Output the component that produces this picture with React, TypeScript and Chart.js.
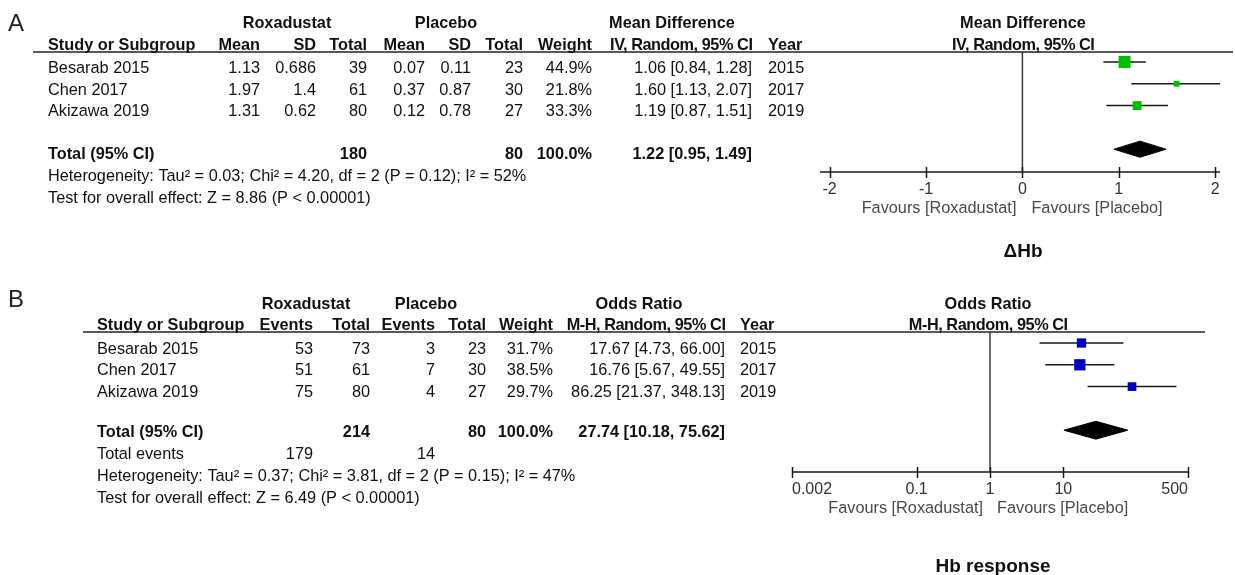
import React, { useEffect, useRef } from "react";
import { Chart, registerables } from "chart.js";

Chart.register(...registerables);

// ---------- shared ----------
const studies = ["Besarab 2015", "Chen 2017", "Akizawa 2019"];
const years = [2015, 2017, 2019];

// ---------- Panel A : ΔHb (Mean Difference) ----------
const roxMeanA = [1.13, 1.97, 1.31];
const roxSdA = [0.686, 1.4, 0.62];
const roxTotalA = [39, 61, 80];
const plcMeanA = [0.07, 0.37, 0.12];
const plcSdA = [0.11, 0.87, 0.78];
const plcTotalA = [23, 30, 27];
const weightA = [44.9, 21.8, 33.3];
const mdEst = [1.06, 1.6, 1.19];
const mdLow = [0.84, 1.13, 0.87];
const mdHigh = [1.28, 2.07, 1.51];
const mdTotal = [1.22, 0.95, 1.49]; // estimate, low, high
const sumTotalsA = [180, 80];
const hetA = "Heterogeneity: Tau² = 0.03; Chi² = 4.20, df = 2 (P = 0.12); I² = 52%";
const testA = "Test for overall effect: Z = 8.86 (P < 0.00001)";
const ticksA = [-2, -1, 0, 1, 2];
const tickLabelsA = ["-2", "-1", "0", "1", "2"];

// ---------- Panel B : Hb response (Odds Ratio) ----------
const roxEventsB = [53, 51, 75];
const roxTotalB = [73, 61, 80];
const plcEventsB = [3, 7, 4];
const plcTotalB = [23, 30, 27];
const weightB = [31.7, 38.5, 29.7];
const orEst = [17.67, 16.76, 86.25];
const orLow = [4.73, 5.67, 21.37];
const orHigh = [66.0, 49.55, 348.13];
const orTotal = [27.74, 10.18, 75.62]; // estimate, low, high
const sumTotalsB = [214, 80];
const totalEventsB = [179, 14];
const hetB = "Heterogeneity: Tau² = 0.37; Chi² = 3.81, df = 2 (P = 0.15); I² = 47%";
const testB = "Test for overall effect: Z = 6.49 (P < 0.00001)";
const ticksB = [0.002, 0.1, 1, 10, 500];
const tickLabelsB = ["0.002", "0.1", "1", "10", "500"];

// ---------- drawing helpers ----------
const FONT = "'Liberation Sans', Arial, Helvetica, sans-serif";
const FS = 16.3;
const TIGHT = -0.45;
const INK = "#111";
const AXIS_BOX = 40;

type Cell = {
  t: string;
  x: number;
  y: number;
  a?: CanvasTextAlign;
  b?: boolean;
  size?: number;
  color?: string;
  ls?: number;
};

function drawCells(ctx: CanvasRenderingContext2D, cells: Cell[]) {
  for (const c of cells) {
    ctx.font = `${c.b ? "bold " : ""}${c.size ?? FS}px ${FONT}`;
    ctx.fillStyle = c.color ?? INK;
    ctx.textAlign = c.a ?? "left";
    ctx.textBaseline = "alphabetic";
    (ctx as any).letterSpacing = `${c.ls ?? 0}px`;
    let x = c.x;
    // letterSpacing adds trailing space; compensate so right/center anchors stay put
    if (c.ls) {
      if (c.a === "right") x -= c.ls;
      else if (c.a === "center") x -= c.ls / 2;
    }
    ctx.fillText(c.t, x, c.y);
  }
  (ctx as any).letterSpacing = "0px";
}

const ci = (e: number, l: number, h: number) =>
  `${e.toFixed(2)} [${l.toFixed(2)}, ${h.toFixed(2)}]`;

function cellsA(nullPx: number): Cell[] {
  const c: Cell[] = [];
  c.push({ t: "A", x: 8, y: 31, size: 24, color: "#222" });
  const h1 = 28;
  const h2 = 49.5;
  c.push(
    { t: "Roxadustat", x: 287, y: h1, a: "center", b: true },
    { t: "Placebo", x: 446, y: h1, a: "center", b: true },
    { t: "Mean Difference", x: 672, y: h1, a: "center", b: true },
    { t: "Mean Difference", x: 1023, y: h1, a: "center", b: true },
    { t: "Study or Subgroup", x: 48, y: h2, b: true },
    { t: "Mean", x: 260, y: h2, a: "right", b: true },
    { t: "SD", x: 316, y: h2, a: "right", b: true },
    { t: "Total", x: 367, y: h2, a: "right", b: true },
    { t: "Mean", x: 425, y: h2, a: "right", b: true },
    { t: "SD", x: 471, y: h2, a: "right", b: true },
    { t: "Total", x: 523, y: h2, a: "right", b: true },
    { t: "Weight", x: 592, y: h2, a: "right", b: true },
    { t: "IV, Random, 95% CI", x: 752, y: h2, a: "right", b: true, ls: TIGHT },
    { t: "Year", x: 768, y: h2, b: true },
    { t: "IV, Random, 95% CI", x: 1023, y: h2, a: "center", b: true, ls: TIGHT }
  );
  const rowY = [73, 94.5, 116];
  studies.forEach((s, i) => {
    const y = rowY[i];
    c.push(
      { t: s, x: 48, y },
      { t: String(roxMeanA[i]), x: 260, y, a: "right" },
      { t: String(roxSdA[i]), x: 316, y, a: "right" },
      { t: String(roxTotalA[i]), x: 367, y, a: "right" },
      { t: plcMeanA[i].toFixed(2), x: 425, y, a: "right" },
      { t: String(plcSdA[i]), x: 471, y, a: "right" },
      { t: String(plcTotalA[i]), x: 523, y, a: "right" },
      { t: weightA[i].toFixed(1) + "%", x: 592, y, a: "right" },
      { t: ci(mdEst[i], mdLow[i], mdHigh[i]), x: 752, y, a: "right" },
      { t: String(years[i]), x: 768, y }
    );
  });
  const ty = 158.5;
  c.push(
    { t: "Total (95% CI)", x: 48, y: ty, b: true },
    { t: String(sumTotalsA[0]), x: 367, y: ty, a: "right", b: true },
    { t: String(sumTotalsA[1]), x: 523, y: ty, a: "right", b: true },
    { t: "100.0%", x: 592, y: ty, a: "right", b: true },
    { t: ci(mdTotal[0], mdTotal[1], mdTotal[2]), x: 752, y: ty, a: "right", b: true },
    { t: hetA, x: 48, y: 181 },
    { t: testA, x: 48, y: 203 },
    { t: "Favours [Roxadustat]", x: nullPx - 6, y: 213, a: "right", color: "#4a4a4a" },
    { t: "Favours [Placebo]", x: nullPx + 9, y: 213, a: "left", color: "#4a4a4a" },
    { t: "ΔHb", x: 1023, y: 256.5, a: "center", b: true, size: 19 }
  );
  return c;
}

function cellsB(nullPx: number): Cell[] {
  const c: Cell[] = [];
  c.push({ t: "B", x: 8, y: 307, size: 24, color: "#222" });
  const h1 = 309;
  const h2 = 330;
  c.push(
    { t: "Roxadustat", x: 306, y: h1, a: "center", b: true },
    { t: "Placebo", x: 426, y: h1, a: "center", b: true },
    { t: "Odds Ratio", x: 639, y: h1, a: "center", b: true },
    { t: "Odds Ratio", x: 988, y: h1, a: "center", b: true },
    { t: "Study or Subgroup", x: 97, y: h2, b: true },
    { t: "Events", x: 313, y: h2, a: "right", b: true },
    { t: "Total", x: 370, y: h2, a: "right", b: true },
    { t: "Events", x: 435, y: h2, a: "right", b: true },
    { t: "Total", x: 486, y: h2, a: "right", b: true },
    { t: "Weight", x: 553, y: h2, a: "right", b: true },
    { t: "M-H, Random, 95% CI", x: 725, y: h2, a: "right", b: true, ls: TIGHT },
    { t: "Year", x: 740, y: h2, b: true },
    { t: "M-H, Random, 95% CI", x: 988, y: h2, a: "center", b: true, ls: TIGHT }
  );
  const rowY = [353.5, 375, 396.5];
  studies.forEach((s, i) => {
    const y = rowY[i];
    c.push(
      { t: s, x: 97, y },
      { t: String(roxEventsB[i]), x: 313, y, a: "right" },
      { t: String(roxTotalB[i]), x: 370, y, a: "right" },
      { t: String(plcEventsB[i]), x: 435, y, a: "right" },
      { t: String(plcTotalB[i]), x: 486, y, a: "right" },
      { t: weightB[i].toFixed(1) + "%", x: 553, y, a: "right" },
      { t: ci(orEst[i], orLow[i], orHigh[i]), x: 725, y, a: "right" },
      { t: String(years[i]), x: 740, y }
    );
  });
  const ty = 436.5;
  c.push(
    { t: "Total (95% CI)", x: 97, y: ty, b: true },
    { t: String(sumTotalsB[0]), x: 370, y: ty, a: "right", b: true },
    { t: String(sumTotalsB[1]), x: 486, y: ty, a: "right", b: true },
    { t: "100.0%", x: 553, y: ty, a: "right", b: true },
    { t: ci(orTotal[0], orTotal[1], orTotal[2]), x: 725, y: ty, a: "right", b: true },
    { t: "Total events", x: 97, y: 458.5 },
    { t: String(totalEventsB[0]), x: 313, y: 458.5, a: "right" },
    { t: String(totalEventsB[1]), x: 435, y: 458.5, a: "right" },
    { t: hetB, x: 97, y: 480.5 },
    { t: testB, x: 97, y: 502.5 },
    { t: "Favours [Roxadustat]", x: nullPx - 7, y: 513, a: "right", color: "#4a4a4a" },
    { t: "Favours [Placebo]", x: nullPx + 7, y: 513, a: "left", color: "#4a4a4a" },
    { t: "Hb response", x: 993, y: 571.5, a: "center", b: true, size: 19 }
  );
  return c;
}

interface Panel {
  top: number;
  height: number;
  plotLeft: number;
  plotRight: number;
  plotTop: number;
  axisY: number;
  xType: "linear" | "logarithmic";
  xMin: number;
  xMax: number;
  ticks: number[];
  tickLabels: string[];
  tickAlign: "center" | "inner";
  yMin: number;
  yMax: number;
  est: number[];
  low: number[];
  high: number[];
  total: number[];
  weights: number[];
  pxPerWeight: number;
  color: string;
  diamondRow: number;
  diamondHalf: number;
  nullValue: number;
  cells: (nullPx: number) => Cell[];
  rule: { y: number; x0: number; x1: number };
}

const panelA: Panel = {
  top: 0,
  height: 285,
  plotLeft: 820,
  plotRight: 1220,
  plotTop: 52,
  axisY: 172,
  xType: "linear",
  xMin: -2.1,
  xMax: 2.05,
  ticks: ticksA,
  tickLabels: tickLabelsA,
  tickAlign: "center",
  yMin: -0.4587,
  yMax: 5.046,
  est: mdEst,
  low: mdLow,
  high: mdHigh,
  total: mdTotal,
  weights: weightA,
  pxPerWeight: 0.267,
  color: "#00c000",
  diamondRow: 4,
  diamondHalf: 0.37,
  nullValue: 0,
  cells: cellsA,
  rule: { y: 52, x0: 33, x1: 1233 },
};

const panelB: Panel = {
  top: 285,
  height: 290,
  plotLeft: 792,
  plotRight: 1188,
  plotTop: 332,
  axisY: 472,
  xType: "logarithmic",
  xMin: 0.002,
  xMax: 500,
  ticks: ticksB,
  tickLabels: tickLabelsB,
  tickAlign: "inner",
  yMin: -0.505,
  yMax: 5.917,
  est: orEst,
  low: orLow,
  high: orHigh,
  total: orTotal,
  weights: weightB,
  pxPerWeight: 0.293,
  color: "#0000c0",
  diamondRow: 4,
  diamondHalf: 0.41,
  nullValue: 1,
  cells: cellsB,
  rule: { y: 332, x0: 83, x1: 1205 },
};

function buildChart(canvas: HTMLCanvasElement, p: Panel): Chart {
  const d = p.diamondRow;
  const h = p.diamondHalf;
  const datasets: any[] = [
    {
      label: "studies",
      data: p.est.map((v, i) => ({ x: v, y: i })),
      pointStyle: "rect",
      pointRadius: p.weights.map((w) => (w * p.pxPerWeight) / Math.SQRT2),
      backgroundColor: p.color,
      borderColor: p.color,
      borderWidth: 0,
    },
    ...p.est.map((_, i) => ({
      label: studies[i] + " CI",
      data: [
        { x: p.low[i], y: i },
        { x: p.high[i], y: i },
      ],
      showLine: true,
      borderColor: "#1a1a1a",
      borderWidth: 1.5,
      pointRadius: 0,
      fill: false,
    })),
    {
      label: "total",
      data: [
        { x: p.total[1], y: d },
        { x: p.total[0], y: d - h },
        { x: p.total[2], y: d },
        { x: p.total[0], y: d + h },
        { x: p.total[1], y: d },
      ],
      showLine: true,
      fill: "shape",
      backgroundColor: "#000",
      borderColor: "#000",
      borderWidth: 1,
      pointRadius: 0,
      tension: 0,
    },
  ];

  const decor = {
    id: "forestDecor",
    beforeDatasetsDraw(chart: any) {
      const { ctx, chartArea } = chart;
      const x = chart.scales.x;
      ctx.save();
      const nx = x.getPixelForValue(p.nullValue);
      ctx.strokeStyle = "#3a3a3a";
      ctx.lineWidth = 1.5;
      ctx.beginPath();
      ctx.moveTo(nx, chartArea.top);
      ctx.lineTo(nx, chartArea.bottom);
      ctx.stroke();
      ctx.strokeStyle = "#1a1a1a";
      ctx.beginPath();
      ctx.moveTo(chartArea.left, chartArea.bottom);
      ctx.lineTo(chartArea.right, chartArea.bottom);
      for (const t of x.ticks) {
        const px = Math.round(x.getPixelForValue(t.value)) + 0.5;
        ctx.moveTo(px, chartArea.bottom - 5);
        ctx.lineTo(px, chartArea.bottom + 6);
      }
      ctx.stroke();
      ctx.restore();
    },
    afterDraw(chart: any) {
      const ctx = chart.ctx as CanvasRenderingContext2D;
      const nx = chart.scales.x.getPixelForValue(p.nullValue);
      ctx.save();
      ctx.translate(0, -p.top);
      ctx.strokeStyle = "#222";
      ctx.lineWidth = 1.5;
      ctx.beginPath();
      ctx.moveTo(p.rule.x0, p.rule.y);
      ctx.lineTo(p.rule.x1, p.rule.y);
      ctx.stroke();
      drawCells(ctx, p.cells(nx));
      ctx.restore();
    },
  };

  const pad = {
    left: p.plotLeft,
    right: 1235 - p.plotRight,
    top: p.plotTop - p.top,
    bottom: p.height - (p.axisY - p.top) - AXIS_BOX,
  };

  return new Chart(canvas, {
    type: "scatter",
    data: { datasets },
    options: {
      animation: false,
      responsive: false,
      events: [],
      layout: { padding: pad },
      plugins: {
        legend: { display: false },
        tooltip: { enabled: false },
      },
      scales: {
        x: {
          type: p.xType,
          min: p.xMin,
          max: p.xMax,
          grid: { display: false, drawTicks: false },
          border: { display: false },
          afterBuildTicks: (s: any) => {
            s.ticks = p.ticks.map((v) => ({ value: v }));
          },
          afterFit: (s: any) => {
            s.height = AXIS_BOX;
          },
          ticks: {
            autoSkip: false,
            maxRotation: 0,
            minRotation: 0,
            align: p.tickAlign,
            padding: 7.5,
            color: "#333",
            font: { family: FONT, size: 16 },
            callback: (_v: any, i: number) => p.tickLabels[i],
          },
        },
        y: {
          type: "linear",
          display: false,
          min: p.yMin,
          max: p.yMax,
          reverse: true,
        },
      },
    } as any,
    plugins: [decor],
  });
}

export default function App() {
  const refA = useRef<HTMLCanvasElement>(null);
  const refB = useRef<HTMLCanvasElement>(null);
  useEffect(() => {
    const a = buildChart(refA.current!, panelA);
    const b = buildChart(refB.current!, panelB);
    return () => {
      a.destroy();
      b.destroy();
    };
  }, []);
  return (
    <div
      style={{
        position: "fixed",
        left: 0,
        top: 0,
        width: 1235,
        height: 575,
        background: "#fff",
        overflow: "hidden",
      }}
    >
      <canvas
        ref={refA}
        width={1235}
        height={panelA.height}
        style={{ position: "absolute", left: 0, top: panelA.top, width: 1235, height: panelA.height }}
      />
      <canvas
        ref={refB}
        width={1235}
        height={panelB.height}
        style={{ position: "absolute", left: 0, top: panelB.top, width: 1235, height: panelB.height }}
      />
    </div>
  );
}
